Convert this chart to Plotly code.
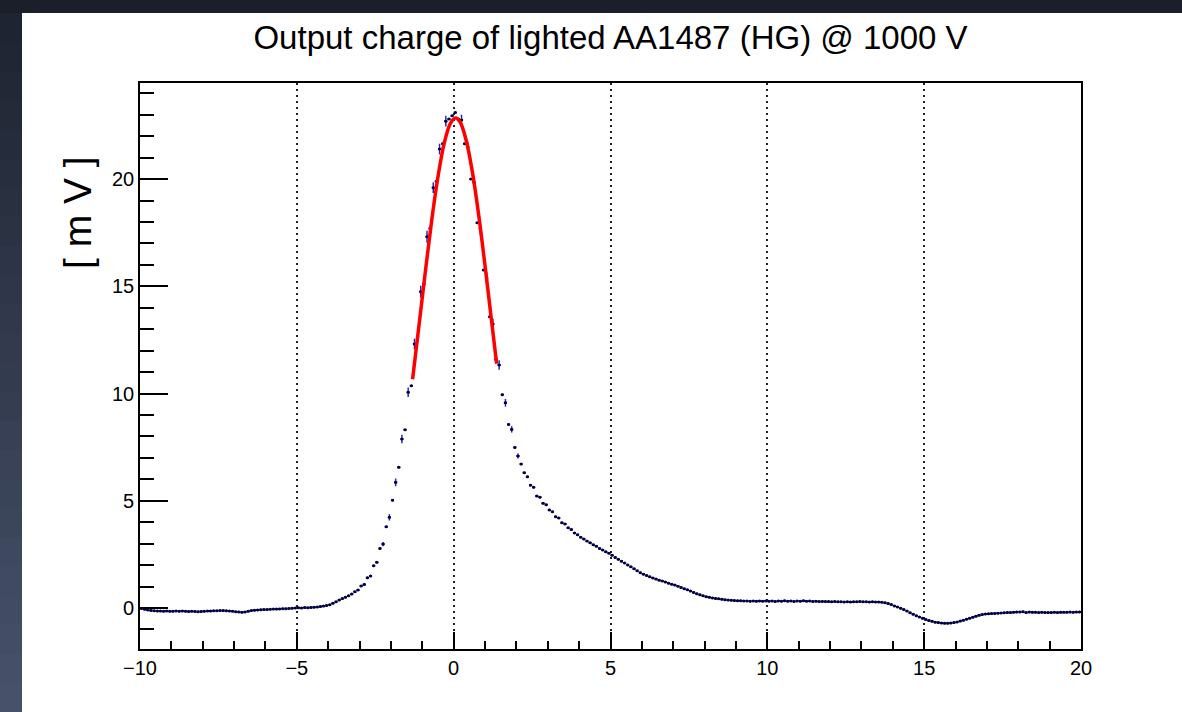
import numpy as np
import plotly.graph_objects as go

# ---------------- data ----------------
title_text = "Output charge of lighted AA1487 (HG) @ 1000 V"
y_title = "[ m V ]"

bin_lo, bin_hi, n_bins = -10.0, 20.0, 300

charge_mv_m10_m5 = [
    -0.02, -0.06, -0.09, -0.11, -0.13, -0.14, -0.14, -0.15, -0.14, -0.15,
    -0.15, -0.14, -0.15, -0.14, -0.15, -0.16, -0.15, -0.16, -0.17, -0.16,
    -0.15, -0.14, -0.14, -0.13, -0.13, -0.12, -0.12, -0.13, -0.14, -0.15,
    -0.17, -0.18, -0.20, -0.18, -0.15, -0.12, -0.10, -0.09, -0.08, -0.07,
    -0.07, -0.06, -0.05, -0.05, -0.04, -0.03, -0.03, -0.02, -0.01, 0.00,
]
charge_mv_m5_0 = [
    0.01, 0.00, 0.02, 0.01, 0.03, 0.04, 0.05, 0.07, 0.09, 0.12,
    0.15, 0.22, 0.29, 0.37, 0.44, 0.50, 0.57, 0.65, 0.76, 0.84,
    1.03, 1.10, 1.41, 1.49, 1.97, 2.13, 2.78, 2.98, 3.79, 4.23,
    5.03, 5.86, 6.56, 7.88, 8.31, 10.06, 10.36, 12.31, 12.65, 14.75,
    15.10, 17.31, 17.70, 19.60, 19.90, 21.40, 21.65, 22.70, 22.80, 22.95,
]
charge_mv_0_5 = [
    23.10, 22.80, 22.75, 21.65, 21.50, 20.00, 19.85, 17.96, 17.70, 15.76,
    15.37, 13.58, 13.24, 11.59, 11.33, 9.95, 9.57, 8.56, 8.33, 7.49,
    7.09, 6.71, 6.31, 6.12, 5.73, 5.63, 5.22, 5.17, 4.88, 4.82,
    4.57, 4.49, 4.26, 4.20, 3.98, 3.92, 3.74, 3.66, 3.50, 3.42,
    3.30, 3.22, 3.12, 3.04, 2.95, 2.88, 2.78, 2.71, 2.62, 2.56,
]
charge_mv_5_10 = [
    2.46, 2.36, 2.27, 2.18, 2.10, 2.01, 1.92, 1.83, 1.74, 1.65,
    1.58, 1.52, 1.46, 1.40, 1.35, 1.30, 1.26, 1.21, 1.16, 1.11,
    1.07, 1.02, 0.96, 0.90, 0.85, 0.79, 0.73, 0.67, 0.62, 0.57,
    0.53, 0.50, 0.47, 0.45, 0.43, 0.41, 0.39, 0.37, 0.36, 0.35,
    0.34, 0.34, 0.33, 0.33, 0.32, 0.33, 0.32, 0.33, 0.32, 0.33,
]
charge_mv_10_15 = [
    0.32, 0.33, 0.31, 0.33, 0.32, 0.34, 0.32, 0.33, 0.31, 0.33,
    0.32, 0.34, 0.32, 0.33, 0.31, 0.32, 0.30, 0.31, 0.30, 0.30,
    0.29, 0.30, 0.29, 0.29, 0.28, 0.29, 0.28, 0.29, 0.29, 0.30,
    0.29, 0.29, 0.28, 0.29, 0.28, 0.28, 0.27, 0.25, 0.21, 0.16,
    0.10, 0.05, -0.01, -0.07, -0.14, -0.22, -0.29, -0.36, -0.42, -0.48,
]
charge_mv_15_20 = [
    -0.53, -0.58, -0.62, -0.66, -0.68, -0.70, -0.71, -0.71, -0.70, -0.68,
    -0.65, -0.61, -0.57, -0.52, -0.48, -0.43, -0.38, -0.34, -0.30, -0.28,
    -0.27, -0.26, -0.25, -0.24, -0.23, -0.22, -0.21, -0.21, -0.20, -0.19,
    -0.18, -0.17, -0.21, -0.19, -0.20, -0.20, -0.21, -0.20, -0.21, -0.21,
    -0.21, -0.20, -0.21, -0.20, -0.20, -0.20, -0.19, -0.20, -0.19, -0.18,
]

default_err = 0.03
big_err_x = [-2.25, -2.05, -1.85, -1.65, -1.45, -1.25, -1.05, -0.85, -0.65, -0.45, -0.25,
             0.25, 0.45, 0.65, 0.85, 1.05, 1.25, 1.45, 1.65, 1.85, 2.05]
big_err_val = [0.10, 0.15, 0.18, 0.20, 0.22, 0.25, 0.28, 0.28, 0.25, 0.25, 0.25,
               0.25, 0.25, 0.25, 0.28, 0.28, 0.25, 0.22, 0.18, 0.15, 0.12]

# Gaussian fit curve (red)
fit_x = [-1.31, -1.1, -0.9, -0.7, -0.5, -0.3, -0.1, 0.06, 0.2, 0.4, 0.6, 0.8, 1.0, 1.2, 1.37]
fit_y = [10.67, 13.24, 15.72, 18.08, 20.11, 21.68, 22.61, 22.85, 22.67, 21.80, 20.30, 18.30, 15.96, 13.49, 11.39]

# ---------------- build ----------------
charge = (charge_mv_m10_m5 + charge_mv_m5_0 + charge_mv_0_5 +
          charge_mv_5_10 + charge_mv_10_15 + charge_mv_15_20)
bw = (bin_hi - bin_lo) / n_bins
centers = bin_lo + (np.arange(n_bins) + 0.5) * bw
errs = [default_err] * n_bins
for bx, be in zip(big_err_x, big_err_val):
    idx = int(round((bx - bin_lo) / bw - 0.5))
    errs[idx] = be

W, H = 1182, 712
L, R, T, B = 140, 1081, 83, 649


def px(x):
    return (x - L) / (R - L)


def py(y):
    return (B - y) / (B - T)


fig = go.Figure()

fig.add_trace(go.Scatter(
    x=centers, y=charge, mode="markers",
    marker=dict(size=3, color="#000040"),
    error_y=dict(type="data", array=errs, visible=True, color="#2828c0", thickness=1.5, width=0),
    error_x=dict(type="constant", value=bw / 2, visible=True, color="#10106a", thickness=2, width=0),
    showlegend=False, hoverinfo="x+y",
))
fig.add_trace(go.Scatter(
    x=fit_x, y=fit_y, mode="lines", line=dict(color="#ff0000", width=3.5, shape="spline"),
    showlegend=False,
))

shapes = []
# white canvas
shapes.append(dict(type="rect", xref="paper", yref="paper", x0=px(22), x1=px(W + 5), y0=py(H + 5), y1=py(13),
                   fillcolor="white", line=dict(width=0), layer="below"))
# left dark gradient strip
nb = 24
c0 = np.array([0x1e, 0x23, 0x30])
c1 = np.array([0x48, 0x53, 0x6c])
for i in range(nb):
    y0p = 13 + (H - 13) * i / nb
    y1p = 13 + (H - 13) * (i + 1) / nb + 1
    c = c0 + (c1 - c0) * (i + 0.5) / nb
    shapes.append(dict(type="rect", xref="paper", yref="paper", x0=px(-2), x1=px(22),
                       y0=py(y1p), y1=py(y0p),
                       fillcolor="rgb(%d,%d,%d)" % tuple(c.astype(int)), line=dict(width=0), layer="below"))

fig.update_layout(
    width=W, height=H,
    margin=dict(l=L, r=W - R, t=T, b=H - B, pad=0),
    paper_bgcolor="#1b1f2a", plot_bgcolor="white",
    font=dict(family="Liberation Sans, Arial, sans-serif", color="black"),
    title=dict(text=title_text, x=0.5, xref="paper", xanchor="center",
               y=1 - 37 / H, yref="container", yanchor="middle",
               font=dict(size=33, color="black", family="Liberation Sans, Arial, sans-serif")),
    shapes=shapes,
    annotations=[dict(text=y_title, textangle=-90, xref="paper", yref="paper",
                      x=px(78), y=py(213), xanchor="center", yanchor="middle", showarrow=False,
                      font=dict(size=39, color="black", family="Liberation Sans, Arial, sans-serif"))],
)

fig.update_xaxes(
    range=[bin_lo, bin_hi], showline=True, linecolor="black", linewidth=1.6, mirror=True,
    ticks="inside", tick0=-10, dtick=5, ticklen=17, tickwidth=1.5, tickcolor="black",
    tickfont=dict(size=20, color="black"),
    showgrid=True, gridcolor="#222222", gridwidth=1.5, griddash="2px,4px",
    zeroline=False,
    minor=dict(ticks="inside", dtick=1, tick0=-10, ticklen=8, tickwidth=1.5, tickcolor="black", showgrid=False),
)
fig.update_yaxes(
    range=[-1.91, 24.48], showline=True, linecolor="black", linewidth=1.6, mirror=True,
    ticks="inside", tick0=0, dtick=5, ticklen=28, tickwidth=1.5, tickcolor="black",
    tickfont=dict(size=20, color="black"),
    showgrid=False, zeroline=False,
    minor=dict(ticks="inside", dtick=1, tick0=0, ticklen=14, tickwidth=1.5, tickcolor="black", showgrid=False),
)

fig.write_html(
    "out.html",
    config={"displayModeBar": False},
    post_script="document.body.style.margin='0';document.body.style.padding='0';"
                "document.body.style.background='#1b1f2a';document.body.style.overflow='hidden';",
)
